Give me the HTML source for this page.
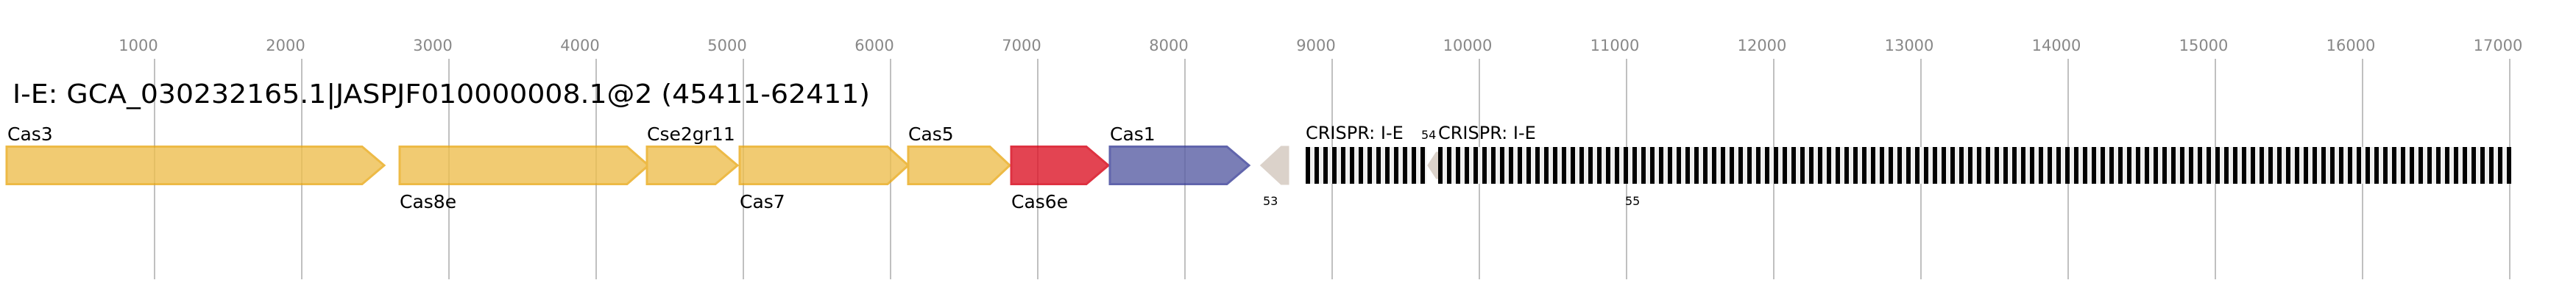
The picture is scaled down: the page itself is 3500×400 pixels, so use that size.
<!DOCTYPE html>
<html><head><meta charset="utf-8"><style>
html,body{margin:0;padding:0;background:#fff;}
svg{display:block;font-family:"DejaVu Sans","Liberation Sans",sans-serif;}
</style></head><body>
<svg width="3500" height="400" viewBox="0 0 3500 400" xmlns="http://www.w3.org/2000/svg">
<defs>
<pattern id="cr" x="1774" y="0" width="12" height="400" patternUnits="userSpaceOnUse">
<rect x="0" y="0" width="12" height="400" fill="#efefef"/>
<rect x="0" y="0" width="6" height="400" fill="#000"/>
</pattern>
</defs>
<g stroke="#c0c0c0" stroke-width="2">
<line x1="210" y1="80" x2="210" y2="380"/><line x1="410" y1="80" x2="410" y2="380"/>
<line x1="610" y1="80" x2="610" y2="380"/><line x1="810" y1="80" x2="810" y2="380"/>
<line x1="1010" y1="80" x2="1010" y2="380"/><line x1="1210" y1="80" x2="1210" y2="380"/>
<line x1="1410" y1="80" x2="1410" y2="380"/><line x1="1610" y1="80" x2="1610" y2="380"/>
<line x1="1810" y1="80" x2="1810" y2="380"/><line x1="2010" y1="80" x2="2010" y2="380"/>
<line x1="2210" y1="80" x2="2210" y2="380"/><line x1="2410" y1="80" x2="2410" y2="380"/>
<line x1="2610" y1="80" x2="2610" y2="380"/><line x1="2810" y1="80" x2="2810" y2="380"/>
<line x1="3010" y1="80" x2="3010" y2="380"/><line x1="3210" y1="80" x2="3210" y2="380"/>
<line x1="3410" y1="80" x2="3410" y2="380"/>
</g>
<g fill="#888" font-size="21" text-anchor="middle">
<text x="188" y="69">1000</text><text x="388" y="69">2000</text><text x="588" y="69">3000</text>
<text x="788" y="69">4000</text><text x="988" y="69">5000</text><text x="1188" y="69">6000</text>
<text x="1388" y="69">7000</text><text x="1588" y="69">8000</text><text x="1788" y="69">9000</text>
<text x="1994" y="69">10000</text><text x="2194" y="69">11000</text><text x="2394" y="69">12000</text>
<text x="2594" y="69">13000</text><text x="2794" y="69">14000</text><text x="2994" y="69">15000</text>
<text x="3194" y="69">16000</text><text x="3394" y="69">17000</text>
</g>
<text x="17" y="140" font-size="36" fill="#000" textLength="1165" lengthAdjust="spacingAndGlyphs">I-E: GCA_030232165.1|JASPJF010000008.1@2 (45411-62411)</text>
<g stroke-width="3" opacity="0.8">
<path d="M9,199.5 H492 L522,225 L492,250.5 H9 Z" fill="#eebf4f" stroke="#e9a919"/>
<path d="M543,199.5 H852 L881,225 L852,250.5 H543 Z" fill="#eebf4f" stroke="#e9a919"/>
<path d="M879,199.5 H972 L1002,225 L972,250.5 H879 Z" fill="#eebf4f" stroke="#e9a919"/>
<path d="M1005,199.5 H1206 L1234,225 L1206,250.5 H1005 Z" fill="#eebf4f" stroke="#e9a919"/>
<path d="M1234,199.5 H1345 L1372,225 L1345,250.5 H1234 Z" fill="#eebf4f" stroke="#e9a919"/>
<path d="M1374,199.5 H1476 L1506,225 L1476,250.5 H1374 Z" fill="#dd1628" stroke="#d60012"/>
<path d="M1508,199.5 H1667 L1697,225 L1667,250.5 H1508 Z" fill="#5a5fa5" stroke="#3a3f98"/>
<path d="M1750,200 H1741 L1714,225 L1741,250 H1750 Z" fill="#d3c8be" stroke="#d3c8be"/>
<path d="M1956,208 H1952 L1941,225 L1952,242 H1956 Z" fill="#d3c8be" stroke="#d3c8be"/>
</g>
<rect x="1774" y="200" width="164" height="50" fill="url(#cr)"/>
<rect x="1954" y="200" width="1458" height="50" fill="url(#cr)"/>
<g fill="#000" font-size="25">
<text x="10" y="191">Cas3</text>
<text x="543" y="283">Cas8e</text>
<text x="879" y="191">Cse2gr11</text>
<text x="1005" y="283">Cas7</text>
<text x="1234" y="191">Cas5</text>
<text x="1374" y="283">Cas6e</text>
<text x="1508" y="191">Cas1</text>
<text x="1774" y="189" font-size="24">CRISPR: I-E</text>
<text x="1954" y="189" font-size="24">CRISPR: I-E</text>
<text x="1931" y="189" font-size="16">54</text>
<text x="1716" y="279" font-size="16">53</text>
<text x="2208" y="279" font-size="16">55</text>
</g>
</svg>
</body></html>
